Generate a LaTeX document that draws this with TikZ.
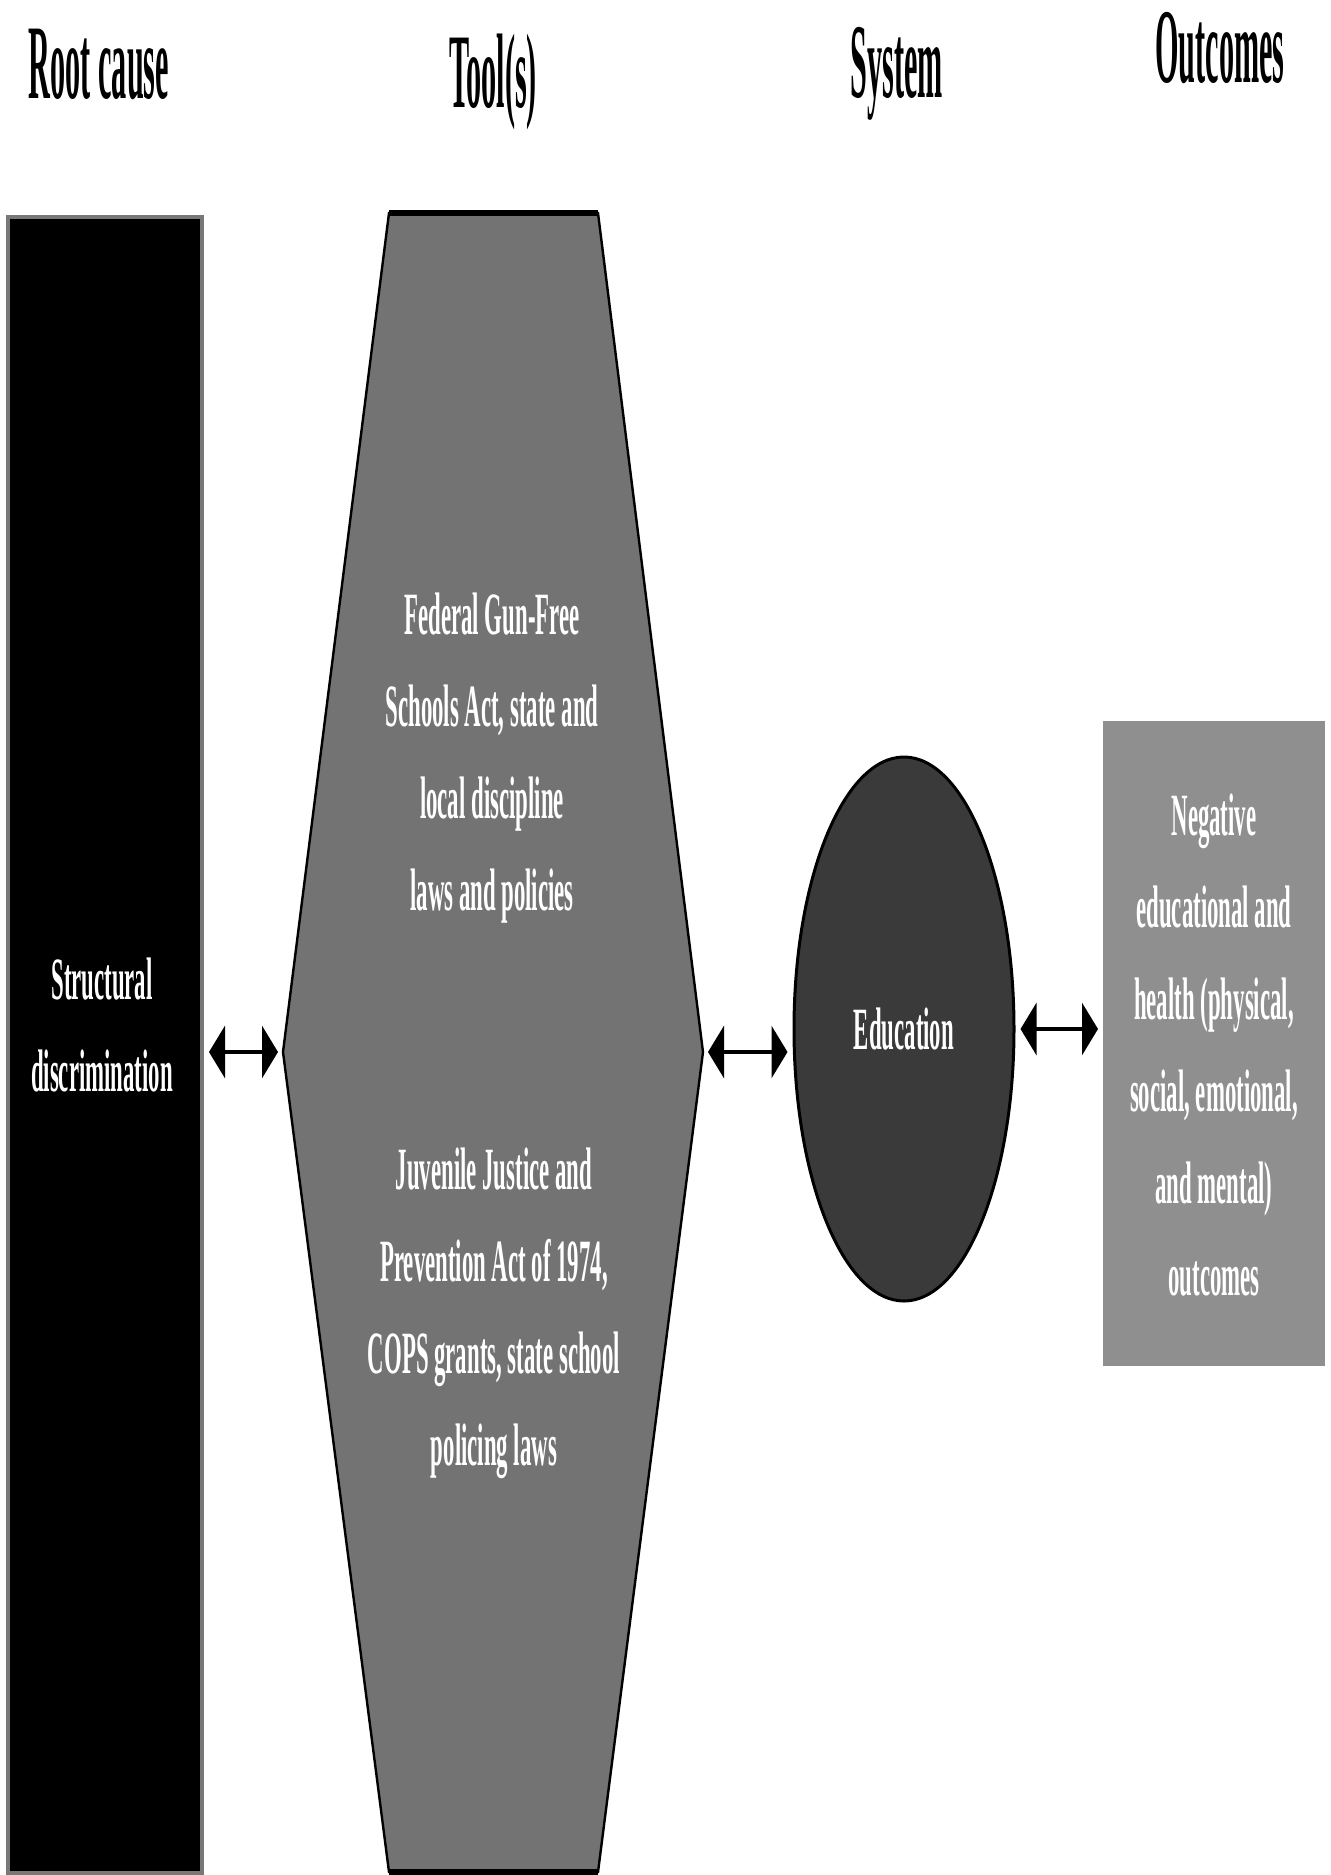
\documentclass[tikz,border=0pt]{standalone}
\usepackage{fontspec}
\setmainfont{Liberation Serif}
\newfontfamily\headfamily{Liberation Serif}[FakeStretch=0.285]
\newfontfamily\bodyfamily{Liberation Serif}[FakeStretch=0.38]
\usepackage{xcolor}
\usetikzlibrary{arrows.meta, positioning, calc}
\usetikzlibrary{shapes.geometric}
\definecolor{rootedge}{RGB}{120,120,120}
\definecolor{toolgray}{RGB}{115,115,115}
\definecolor{sysgray}{RGB}{58,58,58}
\definecolor{outgray}{RGB}{143,143,143}
\newcommand{\headfont}{\headfamily\bfseries\fontsize{53}{60}\selectfont}
\newcommand{\boxfont}{\bodyfamily\bfseries\fontsize{30}{46}\selectfont}

\begin{document}
\begin{tikzpicture}[x=0.5pt,y=-0.5pt,
  head/.style={anchor=base, font=\headfont},
  inner/.style={text=white, align=center, font=\boxfont},
  link/.style={{Triangle[length=8pt,width=26pt]}-{Triangle[length=8pt,width=26pt]},
    line width=2pt, shorten <=2.5pt, shorten >=2.5pt}]
\useasboundingbox (0,0) rectangle (1330,1875);
% Headers
\node[head] (hroot) at (99,98) {Root cause};
\node[head] (htool) at (493,107) {Tool(s)};
\node[head] (hsys) at (897,97) {System};
\node[head] (hout) at (1220,82) {Outcomes};
% Root cause column
\node[fill=black, draw=rootedge, line width=2pt, inner sep=0pt, anchor=north west,
  minimum width=97pt, minimum height=828pt] (root) at (6,215) {};
\node[inner] (rootlabel) at (102,1025) {Structural\\discrimination};
% Tools hexagon
\coordinate (hexTL) at (389,213);
\coordinate (hexTR) at (598,213);
\coordinate (hexR) at (703,1052);
\coordinate (hexBR) at (598,1872);
\coordinate (hexBL) at (389,1872);
\coordinate (hexL) at (283,1052);
\filldraw[fill=toolgray, draw=black, line width=1.2pt]
  (hexTL) -- (hexTR) -- (hexR) -- (hexBR) -- (hexBL) -- (hexL) -- cycle;
\draw[line width=3pt] (hexTL) -- (hexTR);
\draw[line width=3pt] (hexBL) -- (hexBR);
\node[inner] (tool1) at (492,758)
  {Federal Gun-Free\\Schools Act, state and\\local discipline\\laws and policies};
\node[inner] (tool2) at (494,1313)
  {Juvenile Justice and\\Prevention Act of 1974,\\COPS grants, state school\\policing laws};
% System ellipse
\node[ellipse, draw=black, line width=1.5pt, fill=sysgray, inner sep=0pt,
  minimum width=110pt, minimum height=272pt, inner, font=\boxfont] (sys) at (904,1029) {Education};
% Outcomes box
\node[fill=outgray, inner sep=0pt, anchor=north west,
  minimum width=111pt, minimum height=322.5pt] (out) at (1103,721) {};
\node[inner] (outlabel) at (1214,1045)
  {Negative\\educational and\\health (physical,\\social, emotional,\\and mental)\\outcomes};
% Connectors
\draw[link] (root.east |- hexL) -- (hexL);
\draw[link] (hexR) -- (sys.west |- hexR);
\draw[link] (sys.east) -- (out.west |- sys.east);
\end{tikzpicture}
\end{document}
